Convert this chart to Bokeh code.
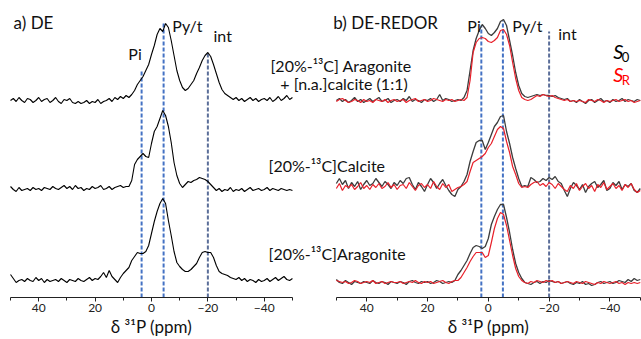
import numpy as np
from bokeh.plotting import figure
from bokeh.models import Range1d, LinearAxis, FixedTicker, ColumnDataSource
from bokeh.core.properties import value
from bokeh.embed import file_html
from bokeh.resources import INLINE

# ---------------- data ----------------
PPM = list(range(50, -51, -1))

# a) DE spectra (intensity, arbitrary units)
DE_MIX = [0, 2, -1, 3, 0, -2, 2, 1, -2, 0,
          3, -1, 1, 2, -2, 0, 3, -1, -3, 1,
          0, 2, -2, -3, -1, -3, -2, 0, -3, -1,
          -2, 1, -3, -1, 0, 2, -1, 3, 1, 4,
          2, 5, 3, 6, 10, 16, 20, 24, 30, 36,
          46, 55, 66, 72, 69, 77, 73, 60, 45, 30,
          20, 13, 10, 12, 16, 20, 27, 33, 40, 45,
          48, 44, 36, 27, 18, 11, 7, 5, 3, 1,
          3, 0, 2, -1, 1, 3, 0, 2, -1, 1,
          2, 0, 3, -1, 1, 4, 0, 2, 5, 1,
          3]
DE_CALCITE = [2, -1, -3, 1, -2, -1, 0, -2, 1, -1,
              0, -2, 1, 0, -1, 2, 0, -1, 1, 3,
              0, 2, -1, 3, 0, 1, -2, 0, -1, 2,
              0, 1, 3, -1, 0, 2, -1, 1, 2, 3,
              1, 2, 2, 8, 24, 29, 32, 35, 32, 31,
              45, 57, 62, 70, 78, 73, 62, 46, 26, 13,
              5, 1, 4, 7, 6, 8, 9, 11, 10, 9,
              7, 4, 1, -2, 0, -3, -1, -2, 1, -3,
              -1, -2, 0, -3, -1, 1, -2, -1, 0, -2,
              -1, 1, -2, 0, -1, -2, 0, -1, -2, -1,
              -2]
DE_ARAG = [6, 2, -2, 0, 1, -1, 2, 0, -1, 3,
           0, 2, -2, 1, -1, 0, 1, -1, 2, 0,
           -2, 1, 0, -1, 2, 0, -1, 1, 3, 0,
           2, 1, 4, 8, 3, 10, 4, 1, -2, 3,
           7, 10, 13, 20, 24, 28, 27, 27, 29, 35,
           47, 59, 69, 77, 82, 77, 60, 45, 29, 18,
           14, 11, 9, 9, 11, 14, 17, 23, 28, 29,
           28, 28, 23, 15, 9, 7, 6, 5, 3, 2,
           1, 3, 0, 2, -1, 1, 0, -2, 1, -1,
           0, 2, -1, 1, 3, 0, 2, 4, 1, 0,
           2]

# b) DE-REDOR spectra: S0 (full echo) and SR (dephased)
REDOR_MIX_S0 = [0, 2, -1, 1, -2, 0, 3, -1, 1, -2,
                0, 2, -1, 1, 3, -1, 0, 2, -2, 0,
                1, -1, 2, 0, 4, -1, 1, 0, -2, 1,
                0, 2, -1, 1, 6, 0, 2, 1, -1, 0,
                1, 0, 3, 10, 30, 50, 62, 70, 76, 72,
                67, 65, 68, 72, 79, 81, 75, 60, 45, 28,
                15, 7, 4, 3, 4, 5, 6, 5, 6, 5,
                5, 4, 5, 3, 2, 1, 2, -1, 0, -2,
                1, -1, -3, 0, 1, -2, 0, 2, -1, 0,
                -2, 1, -1, 0, 2, -1, 1, 0, -1, 1,
                0]
REDOR_MIX_SR = [-1, 1, 2, 0, -2, -1, 1, 0, -2, 1,
                -1, 0, -2, 1, 0, -1, 1, -2, 0, 1,
                -1, 0, 1, -2, 0, 1, 2, -1, 0, 1,
                -1, 0, 2, 1, 0, -1, 1, 0, 1, -1,
                0, 1, 0, 3, 20, 48, 58, 62, 63, 62,
                59, 58, 60, 63, 70, 71, 66, 55, 38, 22,
                10, 3, 1, 0, 1, 3, 5, 4, 6, 5,
                4, 5, 3, 2, 1, 0, 1, -1, 0, -1,
                0, -1, -2, 1, 0, -1, 1, 0, -2, 0,
                -1, 0, 1, -1, 0, 1, -1, 0, -2, -1,
                0]
REDOR_CALC_S0 = [3, 8, 2, 6, -2, 4, 0, 5, -3, 2,
                 6, 1, 3, 8, 4, 0, 5, 2, -2, 4,
                 1, 6, 3, 8, 9, 2, -3, 4, 0, -5,
                 2, 8, 4, -2, 3, 7, 1, -4, -8, -10,
                 -3, 0, 5, 12, 25, 35, 44, 46, 46, 37,
                 44, 52, 60, 64, 70, 71, 55, 43, 29, 18,
                 8, 0, 1, 0, 9, 7, 4, 5, 8, 6,
                 9, 7, 10, 5, 3, -4, -10, -2, 4, 1,
                 -3, 2, -6, 0, 3, 5, -1, 2, 6, -4,
                 -2, 4, 1, 5, -3, 2, 0, 3, -4, -6,
                 -2]
REDOR_CALC_SR = [-2, 3, -4, 1, -1, 2, -3, 0, 4, -2,
                 1, -3, 2, -1, 3, -2, 0, 4, -1, 2,
                 -3, 1, 2, -2, 4, 0, -4, 1, 3, -1,
                 2, -2, 5, 0, -3, 3, -1, 2, -5, -3,
                 -1, 0, 2, 5, 15, 24, 26, 28, 30, 33,
                 39, 43, 50, 57, 60, 58, 45, 34, 20, 12,
                 3, -1, 0, -1, 2, 4, 5, 1, 3, 0,
                 4, 2, -2, 3, 0, -3, -5, 1, -2, 3,
                 -4, 0, 3, -2, 1, -5, 2, -1, 4, -3,
                 0, 3, -2, 1, -4, 2, -1, 3, -3, -6,
                 -4]
REDOR_ARAG_S0 = [3, 0, -1, 2, 0, -2, 1, 0, -1, 1,
                 0, -1, 2, 0, -1, 1, 0, -2, 1, 0,
                 -1, 1, 0, -2, 1, 2, 0, -1, 1, 0,
                 1, -1, 0, 2, 1, -1, 0, 1, 0, 2,
                 8, 12, 17, 22, 29, 35, 37, 36, 34, 36,
                 44, 58, 66, 73, 78, 78, 65, 50, 33, 19,
                 10, 4, 0, -1, -2, 0, 1, -1, 1, 0,
                 2, 1, 0, 1, -1, 0, 1, -1, -2, 0,
                 -1, 1, -2, -1, -3, -2, 0, 1, -1, 0,
                 1, -1, 0, 2, 1, 0, 3, 1, 4, 2,
                 3]
REDOR_ARAG_SR = [2, 1, 0, 1, -1, 0, 2, 1, -1, 0,
                 1, 0, 2, -1, 0, 1, -1, 0, 1, 0,
                 0, 1, -1, 0, 1, 0, 2, 0, -1, 1,
                 0, 1, -1, 0, 1, 2, 0, -1, 1, 2,
                 2, 5, 10, 15, 21, 26, 30, 30, 30, 25,
                 27, 40, 54, 64, 70, 68, 57, 42, 27, 14,
                 6, 2, 0, -1, 1, 0, 2, 1, 0, 2,
                 1, 2, 0, 1, -1, 0, 1, 0, -1, 1,
                 0, -1, 1, 0, -1, -2, 0, -1, 1, 0,
                 -1, 0, 1, -1, 0, -2, 0, -1, 0, -1,
                 0]

MAJOR_TICKS = [40, 20, 0, -20, -40]
MINOR_TICKS = [50, 30, 10, -10, -30, -50]

MARKER_NAMES = ["Pi", "Py/t", "int"]
DE_MARKER_PPM = [3.5, -4.3, -20.0]
REDOR_MARKER_PPM = [2.3, -4.8, -20.0]

SAMPLE_LABELS = ["[20%-¹³C] Aragonite", "+ [n.a.]calcite (1:1)",
                 "[20%-¹³C]Calcite", "[20%-¹³C]Aragonite"]

# ---------------- layout / style ----------------
FONT = "Lato"
W, H = 641, 339
DE_OFFSETS = [197, 109, 17]
REDOR_OFFSETS = [197, 111, 15]
DE_MARKER_TOP = [227, 275, 245]
REDOR_MARKER_TOP = [272, 277, 266]
MARKER_COLORS = ["#4472C4", "#4472C4", "#5B6E99"]

p = figure(width=W, height=H, output_backend="svg", toolbar_location=None,
           x_range=Range1d(53.55, -173.8), y_range=Range1d(-42, 297),
           x_axis_type=None, y_axis_type=None, min_border=0)
p.extra_x_ranges = {"r": Range1d(160.5, -50.4)}
p.outline_line_color = None
p.xgrid.visible = False
p.ygrid.visible = False
p.background_fill_color = "white"
p.border_fill_color = "white"


def make_axis(range_name):
    ax = LinearAxis(ticker=FixedTicker(ticks=MAJOR_TICKS, minor_ticks=MINOR_TICKS),
                    bounds=(-50, 50), fixed_location=0,
                    axis_label="δ ³¹P (ppm)")
    if range_name is not None:
        ax.x_range_name = range_name
    ax.axis_line_color = "#222222"
    ax.axis_line_width = 1
    ax.major_tick_in = 0
    ax.major_tick_out = 4
    ax.minor_tick_in = 0
    ax.minor_tick_out = 3
    ax.major_tick_line_color = "#222222"
    ax.minor_tick_line_color = "#222222"
    ax.major_label_text_font = FONT
    ax.major_label_text_font_size = "12px"
    ax.major_label_text_color = "#222222"
    ax.major_label_standoff = 2
    ax.axis_label_text_font = FONT
    ax.axis_label_text_font_size = "17px"
    ax.axis_label_text_font_style = "normal"
    ax.axis_label_text_color = "#111111"
    ax.axis_label_standoff = 1
    return ax


p.add_layout(make_axis(None), "below")
p.add_layout(make_axis("r"), "below")

ppm = np.array(PPM, dtype=float)

# marker lines
for i, name in enumerate(MARKER_NAMES):
    p.segment(x0=[DE_MARKER_PPM[i]], x1=[DE_MARKER_PPM[i]], y0=[0], y1=[DE_MARKER_TOP[i]],
              line_color=MARKER_COLORS[i], line_width=2, line_dash="4 2")
    p.segment(x0=[REDOR_MARKER_PPM[i]], x1=[REDOR_MARKER_PPM[i]], y0=[0], y1=[REDOR_MARKER_TOP[i]],
              line_color=MARKER_COLORS[i], line_width=2, line_dash="4 2", x_range_name="r")

# DE spectra
for vals, off in zip([DE_MIX, DE_CALCITE, DE_ARAG], DE_OFFSETS):
    src = ColumnDataSource(dict(x=ppm, y=np.array(vals, dtype=float) + off))
    p.line("x", "y", source=src, line_color="black", line_width=1.1)

# REDOR spectra
for s0, sr, off in zip([REDOR_MIX_S0, REDOR_CALC_S0, REDOR_ARAG_S0],
                       [REDOR_MIX_SR, REDOR_CALC_SR, REDOR_ARAG_SR], REDOR_OFFSETS):
    src0 = ColumnDataSource(dict(x=ppm, y=np.array(s0, dtype=float) + off))
    srcr = ColumnDataSource(dict(x=ppm, y=np.array(sr, dtype=float) + off))
    p.line("x", "y", source=src0, line_color="#3c3c3c", line_width=1.3, x_range_name="r")
    p.line("x", "y", source=srcr, line_color="#E8202A", line_width=1.2, x_range_name="r")

txt = dict(text_font=value(FONT), text_baseline="middle", text_align="left", text_color="#111111")

# panel titles
p.text(x=[48.9], y=[275], text=["a)  DE"], text_font_size="17px", **txt)
p.text(x=[51.0], y=[275], text=["b)  DE-REDOR"], text_font_size="17px", x_range_name="r", **txt)

# peak labels
p.text(x=[8.2, -7.4, -22.0], y=[244, 272, 262], text=MARKER_NAMES, text_font_size="16px", **txt)
p.text(x=[6.9, -7.9, -23.0], y=[272, 272, 264], text=MARKER_NAMES, text_font_size="16px",
       x_range_name="r", **txt)

# sample labels
p.text(x=[-42.2, -45.7, -41.5, -41.5], y=[232, 214, 132, 44], text=SAMPLE_LABELS,
       text_font_size="16px", **txt)

# legend S0 / SR
p.text(x=[-41.1], y=[247], text=["S"], text_font_size="20px", text_font_style="italic",
       text_color="black", text_font=value(FONT), text_baseline="middle", text_align="left",
       x_range_name="r")
p.text(x=[-43.9], y=[241], text=["0"], text_font_size="13px",
       text_color="black", text_font=value(FONT), text_baseline="middle", text_align="left",
       x_range_name="r")
p.text(x=[-41.1], y=[224], text=["S"], text_font_size="20px", text_font_style="italic",
       text_color="#FF0000", text_font=value(FONT), text_baseline="middle", text_align="left",
       x_range_name="r")
p.text(x=[-43.9], y=[218], text=["R"], text_font_size="13px",
       text_color="#FF0000", text_font=value(FONT), text_baseline="middle", text_align="left",
       x_range_name="r")

open("out.html", "w").write(file_html(p, INLINE))
